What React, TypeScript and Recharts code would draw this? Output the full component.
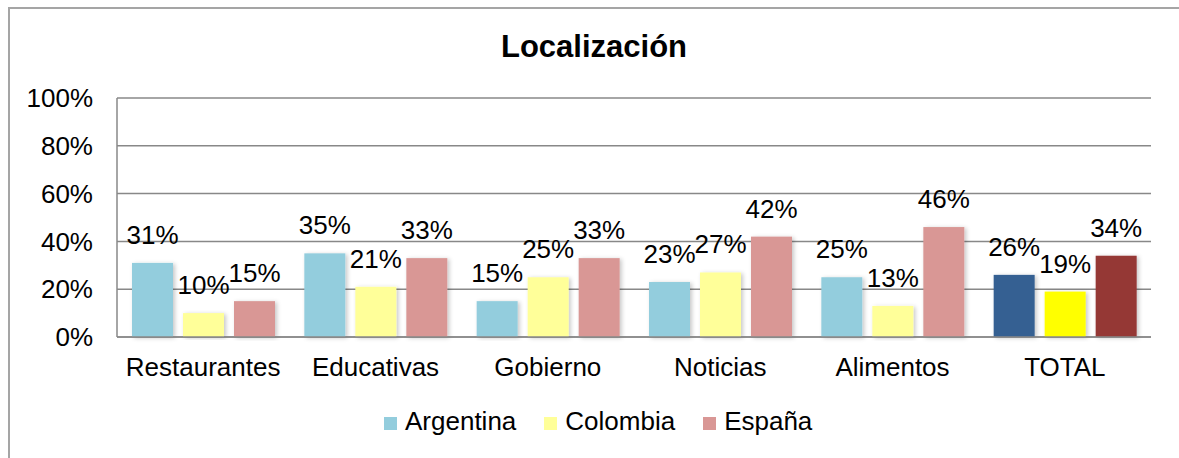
import * as React from "react";
import {BarChart, Bar, XAxis, YAxis, CartesianGrid, Legend, LabelList, Cell} from 'recharts';

const categories = ['Restaurantes', 'Educativas', 'Gobierno', 'Noticias', 'Alimentos', 'TOTAL'];
const argentina = [31, 35, 15, 23, 25, 26];
const colombia = [10, 21, 25, 27, 13, 19];
const espana = [15, 33, 33, 42, 46, 34];
const yTicks = [0, 20, 40, 60, 80, 100];

const series = [
    {key: 'Argentina', color: '#93cddd', totalColor: '#366092'},
    {key: 'Colombia', color: '#ffff99', totalColor: '#ffff00'},
    {key: 'España', color: '#d99795', totalColor: '#953735'},
];

const chart_data = categories.map((c, i) => ({
    name: c,
    Argentina: argentina[i],
    Colombia: colombia[i],
    'España': espana[i],
}));

const FONT = '"Liberation Sans", Arial, sans-serif';
const GRID = '#888888';

const ShadowBar = (props: any) => {
    const {x, y, width, height, fill} = props;
    if (!height) return null;
    return <rect x={x} y={y} width={width} height={height} fill={fill} filter="url(#barShadow)"/>;
};

const CustomLegend = () => (
    <div style={{display: 'flex', fontSize: 26, lineHeight: '30px', fontFamily: FONT}}>
        {series.map((s, i) => (
            <div key={s.key} style={{display: 'flex', alignItems: 'flex-start', marginRight: i < 2 ? 28 : 0}}>
                <span style={{width: 13, height: 13, background: s.color, marginTop: 11, marginRight: 8}}/>
                <span>{s.key}</span>
            </div>
        ))}
    </div>
);

export default function App() {
    return (
        <div style={{position: 'absolute', left: 8, top: 7, width: 1171, height: 451, boxSizing: 'border-box',
            borderTop: '2px solid #a5a5a5', borderLeft: '2px solid #a5a5a5', fontFamily: FONT, overflow: 'hidden'}}>
            <style>{'html, body { margin: 0; overflow: hidden; }'}</style>
            <svg width={0} height={0} style={{position: 'absolute'}}>
                <defs>
                    <filter id="barShadow" x="-20%" y="-10%" width="140%" height="120%">
                        <feDropShadow dx={2} dy={1} stdDeviation={2} floodColor="#000" floodOpacity={0.22}/>
                    </filter>
                </defs>
            </svg>
            <div style={{position: 'absolute', left: 0, top: 22, width: 1168, textAlign: 'center',
                fontSize: 31, fontWeight: 'bold', lineHeight: 1}}>
                Localización
            </div>
            <div style={{position: 'absolute', left: -2, top: -1}}>
                <BarChart width={1171} height={450} data={chart_data}
                          margin={{top: 90, right: 28, left: 0, bottom: 61}}
                          barSize={41} barGap={10}>
                    <CartesianGrid vertical={false} stroke={GRID} strokeWidth={1.5}/>
                    <XAxis dataKey="name" height={60} tickSize={0} tickMargin={21}
                           axisLine={{stroke: GRID, strokeWidth: 1.5}} tickLine={false}
                           tick={{fontSize: 26, fill: '#000'}} interval={0}/>
                    <YAxis width={109} domain={[0, 100]} ticks={yTicks} tickSize={0} tickMargin={24}
                           axisLine={{stroke: GRID, strokeWidth: 1.5}} tickLine={false}
                           tickFormatter={(v: number) => v + '%'} tick={{fontSize: 26, fill: '#000'}}/>
                    <Legend verticalAlign="middle" align="center" content={CustomLegend}
                            wrapperStyle={{position: 'absolute', left: 376, top: 398, width: 'auto'}}/>
                    {series.map(s => (
                        <Bar key={s.key} dataKey={s.key} isAnimationActive={false} shape={ShadowBar}>
                            {chart_data.map(d => (
                                <Cell key={d.name} fill={d.name === 'TOTAL' ? s.totalColor : s.color}/>
                            ))}
                            <LabelList dataKey={s.key} position="top" offset={19}
                                       formatter={(v: any) => v + '%'}
                                       style={{fontSize: 26, fill: '#000'}}/>
                        </Bar>
                    ))}
                </BarChart>
            </div>
        </div>
    );
}
